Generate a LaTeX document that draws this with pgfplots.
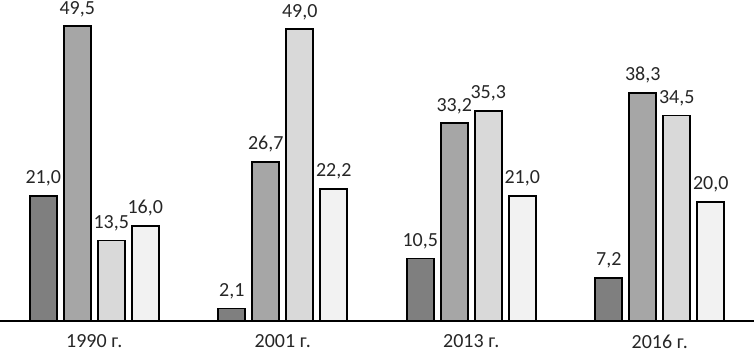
\documentclass[border=0pt]{standalone}
\usepackage{pgfplots}
\pgfplotsset{compat=1.18}
\usepackage{fontspec}
\setmainfont{Carlito}
\definecolor{c1}{HTML}{7F7F7F}
\definecolor{c2}{HTML}{A6A6A6}
\definecolor{c3}{HTML}{D9D9D9}
\definecolor{c4}{HTML}{F2F2F2}
\begin{document}
\begin{tikzpicture}
\begin{axis}[
  scale only axis, width=377pt, height=160.5pt,
  xmin=-0.5, xmax=3.5, ymin=0, ymax=53.9,
  ybar=3.5pt, bar width=13.5pt,
  axis x line*=bottom, axis y line=none,
  x axis line style={line width=0.7pt, black},
  xtick={0,1,2,3}, xticklabels={1990 г., 2001 г., 2013 г., 2016 г.},
  xtick style={draw=none},
  xticklabel style={font=\fontsize{10}{12}\selectfont, yshift=1pt, text=black!85},
  ytick=\empty,
  /pgf/number format/assume math mode=true,
  /pgf/number format/.cd, use comma, fixed, fixed zerofill, precision=1, /pgfplots/.cd,
  nodes near coords,
  every node near coord/.append style={font=\fontsize{10}{12}\selectfont, text=black!85, yshift=1pt},
  clip=false,
]
\addplot[draw=black, fill=c1, line width=0.9pt] coordinates {(0,21.0) (1,2.1) (2,10.5) (3,7.2)};
\addplot[draw=black, fill=c2, line width=0.9pt] coordinates {(0,49.5) (1,26.7) (2,33.2) (3,38.3)};
\addplot[draw=black, fill=c3, line width=0.9pt] coordinates {(0,13.5) (1,49.0) (2,35.3) (3,34.5)};
\addplot[draw=black, fill=c4, line width=0.9pt] coordinates {(0,16.0) (1,22.2) (2,21.0) (3,20.0)};
\end{axis}
\pgfresetboundingbox
\useasboundingbox ([yshift=-15.5pt]current axis.south west) rectangle (current axis.north east);
\end{tikzpicture}
\end{document}
